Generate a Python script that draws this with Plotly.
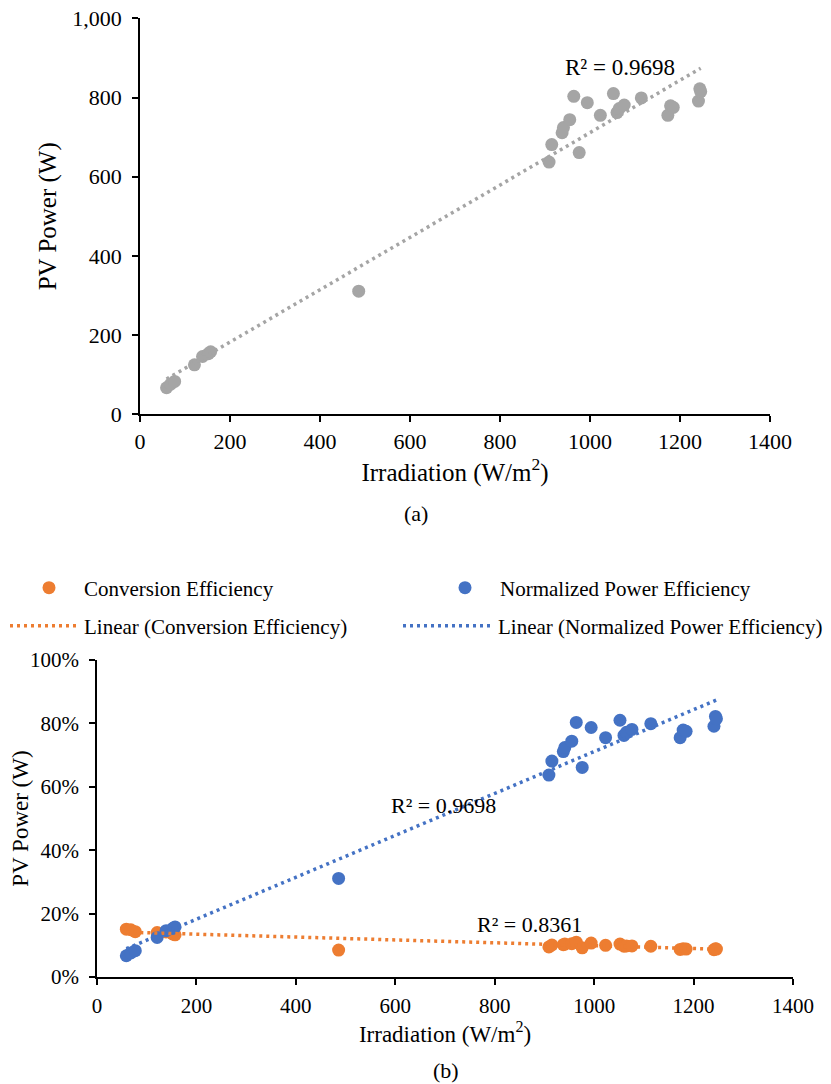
import numpy as np
import plotly.graph_objects as go

# ---- data ----
irradiation = [59, 68, 77, 121, 139, 152, 157, 486, 909, 915, 938, 941, 955, 964,
               976, 994, 1023, 1052, 1060, 1065, 1076, 1114, 1173, 1179, 1185,
               1241, 1244, 1246]
pv_power = [67, 76, 83, 125, 146, 153, 158, 311, 637, 681, 711, 724, 744, 803,
            661, 787, 755, 810, 762, 772, 781, 799, 755, 779, 775, 791, 822, 815]
conversion_eff = [0.151, 0.149, 0.143, 0.140, 0.142, 0.136, 0.133, 0.085, 0.095,
                  0.101, 0.102, 0.104, 0.105, 0.110, 0.092, 0.107, 0.100, 0.104,
                  0.097, 0.098, 0.098, 0.097, 0.087, 0.089, 0.088, 0.086, 0.089,
                  0.088]
normalized_eff = [0.067, 0.076, 0.083, 0.125, 0.146, 0.153, 0.158, 0.311, 0.637,
                  0.681, 0.711, 0.724, 0.744, 0.803, 0.661, 0.787, 0.755, 0.810,
                  0.762, 0.772, 0.781, 0.799, 0.755, 0.779, 0.775, 0.791, 0.822,
                  0.815]
r2_power = "R² = 0.9698"
r2_norm = "R² = 0.9698"
r2_conv = "R² = 0.8361"

W, H = 880, 1084   # a little wider than the window so the last legend entry fits
OFF = 8  # default page body margin
FONT = "Liberation Serif, Times New Roman, serif"
GRAY, ORANGE, BLUE = "#A5A5A5", "#ED7D31", "#4472C4"


def fx(p):
    return (p - OFF) / W


def fy(p):
    return 1 - (p - OFF) / H


def trend(xv, yv):
    c = np.polyfit(xv, yv, 1)
    xs = np.array([min(xv), max(xv)], dtype=float)
    return xs, np.polyval(c, xs)


fig = go.Figure()

# ---- (a) ----
fig.add_trace(go.Scatter(x=irradiation, y=pv_power, mode="markers",
                         marker=dict(color=GRAY, size=13, line=dict(width=0)),
                         showlegend=False, xaxis="x", yaxis="y"))
tx, ty = trend(irradiation, pv_power)
fig.add_trace(go.Scatter(x=tx, y=ty, mode="lines",
                         line=dict(color=GRAY, width=3.5, dash="3px,4px"),
                         showlegend=False, xaxis="x", yaxis="y"))

# ---- (b) ----
fig.add_trace(go.Scatter(x=irradiation, y=conversion_eff, mode="markers",
                         name="Conversion Efficiency",
                         marker=dict(color=ORANGE, size=13, line=dict(width=0)),
                         legend="legend", xaxis="x2", yaxis="y2"))
fig.add_trace(go.Scatter(x=irradiation, y=normalized_eff, mode="markers",
                         name="Normalized Power Efficiency",
                         marker=dict(color=BLUE, size=13, line=dict(width=0)),
                         legend="legend2", xaxis="x2", yaxis="y2"))
tx, ty = trend(irradiation, conversion_eff)
fig.add_trace(go.Scatter(x=tx, y=ty, mode="lines",
                         name="Linear (Conversion Efficiency)",
                         line=dict(color=ORANGE, width=3.5, dash="3px,4px"),
                         legend="legend3", xaxis="x2", yaxis="y2"))
tx, ty = trend(irradiation, normalized_eff)
fig.add_trace(go.Scatter(x=tx, y=ty, mode="lines",
                         name="Linear (Normalized Power Efficiency)",
                         line=dict(color=BLUE, width=3.5, dash="3px,4px"),
                         legend="legend4", xaxis="x2", yaxis="y2"))

axis_common = dict(showline=True, linecolor="black", linewidth=1.5,
                   ticks="outside", ticklen=6, tickwidth=1.5, tickcolor="black",
                   showgrid=False, zeroline=False, automargin=False,
                   ticklabeloverflow="allow")


def leg(xp, yp, iw):
    return dict(orientation="h", x=fx(xp), xanchor="left", y=fy(yp),
                yanchor="middle", itemwidth=iw,
                font=dict(family=FONT, size=21), bgcolor="rgba(0,0,0,0)")


fig.update_layout(
    width=W, height=H,
    margin=dict(l=0, r=0, t=0, b=0, autoexpand=False),
    paper_bgcolor="white", plot_bgcolor="white",
    font=dict(family=FONT, color="black"),
    xaxis=dict(domain=[fx(140), fx(770)], range=[0, 1400], dtick=200,
               anchor="y", tickfont=dict(size=22), ticklabelstandoff=1,
               title=dict(text="Irradiation (W/m<sup>2</sup>)",
                          font=dict(size=25), standoff=0),
               **axis_common),
    yaxis=dict(domain=[fy(414.3), fy(18.3)], range=[0, 1000], dtick=200,
               tickformat=",", anchor="x", tickfont=dict(size=22),
               ticklabelstandoff=6,
               title=dict(text="PV Power (W)", font=dict(size=25), standoff=9),
               **axis_common),
    xaxis2=dict(domain=[fx(97), fx(793)], range=[0, 1400], dtick=200,
                anchor="y2", tickfont=dict(size=21), ticklabelstandoff=3,
                title=dict(text="Irradiation (W/m<sup>2</sup>)",
                           font=dict(size=23), standoff=0),
                **axis_common),
    yaxis2=dict(domain=[fy(977), fy(660)], range=[0, 1], dtick=0.2,
                tickformat=".0%", anchor="x2", tickfont=dict(size=21),
                ticklabelstandoff=6,
                title=dict(text="PV Power (W)", font=dict(size=23), standoff=0),
                **axis_common),
    legend=leg(14, 588, 60),
    legend2=leg(430, 588, 60),
    legend3=leg(-16, 626, 90),
    legend4=leg(398, 626, 90),
    annotations=[
        dict(text=r2_power, x=1067, y=875, xref="x", yref="y",
             showarrow=False, font=dict(size=23)),
        dict(text=r2_norm, x=696, y=0.54, xref="x2", yref="y2",
             showarrow=False, font=dict(size=22)),
        dict(text=r2_conv, x=870, y=0.165, xref="x2", yref="y2",
             showarrow=False, font=dict(size=22)),
        dict(text="(a)", x=fx(416), y=fy(513), xref="paper", yref="paper",
             xanchor="center", yanchor="middle",
             showarrow=False, font=dict(size=22)),
        dict(text="(b)", x=fx(446), y=fy(1070), xref="paper", yref="paper",
             xanchor="center", yanchor="middle",
             showarrow=False, font=dict(size=22)),
    ],
)

fig.write_html("out.html")
